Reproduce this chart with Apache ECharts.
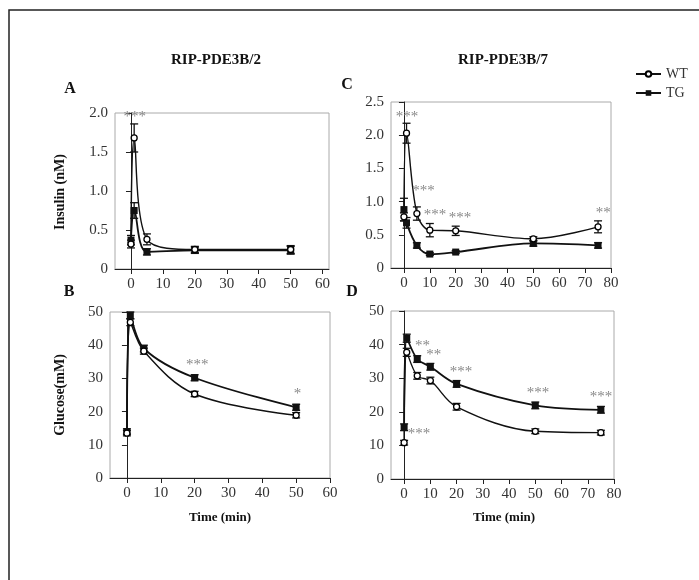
<!DOCTYPE html>
<html><head><meta charset="utf-8">
<script src="https://cdn.jsdelivr.net/npm/echarts@6/dist/echarts.min.js"></script>
<style>html,body{margin:0;padding:0;background:#fff}#c{width:699px;height:580px}</style>
</head><body><div id="c"></div>
<script>
// ---- data ----
const timeA = [0, 1, 5, 20, 50];
const insulinWT_A = [0.32, 1.68, 0.38, 0.25, 0.25];
const insulinWT_A_err = [0.05, 0.18, 0.07, 0.04, 0.05];
const insulinTG_A = [0.37, 0.75, 0.22, 0.24, 0.24];
const insulinTG_A_err = [0.06, 0.10, 0.04, 0.04, 0.05];

const timeB = [0, 1, 5, 20, 50];
const glucoseWT_B = [13.5, 46.9, 38.2, 25.3, 18.9];
const glucoseWT_B_err = [0.8, 1.0, 0.9, 0.8, 0.8];
const glucoseTG_B = [14.0, 49.0, 39.0, 30.2, 21.3];
const glucoseTG_B_err = [0.8, 1.0, 1.0, 0.9, 0.9];

const timeC = [0, 1, 5, 10, 20, 50, 75];
const insulinWT_C = [0.77, 2.03, 0.82, 0.57, 0.56, 0.44, 0.62];
const insulinWT_C_err = [0.06, 0.15, 0.10, 0.10, 0.07, 0.03, 0.09];
const insulinTG_C = [0.88, 0.68, 0.34, 0.21, 0.24, 0.37, 0.34];
const insulinTG_C_err = [0.17, 0.08, 0.04, 0.02, 0.02, 0.04, 0.04];

const timeD = [0, 1, 5, 10, 20, 50, 75];
const glucoseWT_D = [10.8, 37.7, 30.7, 29.3, 21.5, 14.2, 13.8];
const glucoseWT_D_err = [0.7, 1.2, 1.0, 1.0, 1.0, 0.7, 0.7];
const glucoseTG_D = [15.4, 41.9, 35.7, 33.4, 28.3, 21.9, 20.6];
const glucoseTG_D_err = [1.0, 1.2, 1.0, 1.0, 1.0, 1.0, 1.0];

const xTicks60 = [0, 10, 20, 30, 40, 50, 60];
const xTicks80 = [0, 10, 20, 30, 40, 50, 60, 70, 80];

// significance marks: [time, value, text]
const starsA = [[1.2, 1.95, '***']];
const starsB = [[20.8, 34, '***'], [50.4, 25.3, '*']];
const starsC = [[1.2, 2.28, '***'], [7.6, 1.16, '***'], [12, 0.80, '***'], [21.7, 0.75, '***'], [77, 0.82, '**']];
const starsD = [[7, 39.7, '**'], [11.3, 37, '**'], [21.7, 31.8, '***'], [51, 25.6, '***'], [75, 24.5, '***'], [5.7, 13.4, '***']];

// ---- chart ----
const FONT = '"Liberation Serif", "DejaVu Serif", serif';
const grids = [
  {left: 115, top: 113, width: 214, height: 156},
  {left: 110, top: 312, width: 220, height: 166},
  {left: 391, top: 102, width: 220, height: 166},
  {left: 391, top: 311, width: 223, height: 168}
].map(g => Object.assign(g, {show: true, borderColor: '#aaa', borderWidth: 1, backgroundColor: 'transparent'}));

function xAx(i, max, ticks) {
  return {
    type: 'value', gridIndex: i, min: -5, max: max,
    axisLine: {show: true, onZero: false, lineStyle: {color: '#222', width: 1}},
    axisTick: {show: true, length: 5, customValues: ticks, lineStyle: {color: '#222'}},
    axisLabel: {customValues: ticks, color: '#333', fontFamily: FONT, fontSize: 15, margin: 8},
    splitLine: {show: false}
  };
}
function yAx(i, max, interval, dec) {
  return {
    type: 'value', gridIndex: i, min: 0, max: max, interval: interval,
    axisLine: {show: true, lineStyle: {color: '#222', width: 1}},
    axisTick: {show: true, length: 5, lineStyle: {color: '#222'}},
    axisLabel: {color: '#333', fontFamily: FONT, fontSize: 15, margin: 7,
      formatter: v => v === 0 ? '0' : (dec ? v.toFixed(1) : String(v))},
    splitLine: {show: false}
  };
}

function zip(xs, ys) { return xs.map((x, i) => [x, ys[i]]); }
function zip3(xs, ys, es) { return xs.map((x, i) => [x, ys[i], es[i]]); }

function lineSeries(name, gi, xs, ys, isWT) {
  return {
    name: name, type: 'line', xAxisIndex: gi, yAxisIndex: gi,
    data: zip(xs, ys), smooth: 0.35,
    symbol: isWT ? 'circle' : 'rect', symbolSize: isWT ? 6 : 7,
    itemStyle: isWT ? {color: '#fff', borderColor: '#000', borderWidth: 1.3} : {color: '#111', borderColor: '#111', borderWidth: 0},
    lineStyle: {color: '#111', width: isWT ? 1.4 : 1.8},
    z: isWT ? 4 : 3, animation: false
  };
}
function errSeries(gi, xs, ys, es) {
  return {
    type: 'custom', xAxisIndex: gi, yAxisIndex: gi, data: zip3(xs, ys, es), z: 2, silent: true, animation: false,
    renderItem: function (params, api) {
      const x = api.value(0), y = api.value(1), e = api.value(2);
      const hi = api.coord([x, y + e]), lo = api.coord([x, y - e]);
      const w = 4;
      const st = {stroke: '#111', lineWidth: 1.3, fill: null};
      return {type: 'group', children: [
        {type: 'line', shape: {x1: hi[0], y1: hi[1], x2: lo[0], y2: lo[1]}, style: st},
        {type: 'line', shape: {x1: hi[0] - w, y1: hi[1], x2: hi[0] + w, y2: hi[1]}, style: st},
        {type: 'line', shape: {x1: lo[0] - w, y1: lo[1], x2: lo[0] + w, y2: lo[1]}, style: st}
      ]};
    }
  };
}
function starSeries(gi, stars) {
  return {
    type: 'custom', xAxisIndex: gi, yAxisIndex: gi, data: stars, z: 5, silent: true, animation: false,
    renderItem: function (params, api) {
      const p = api.coord([api.value(0), api.value(1)]);
      return {type: 'text', x: p[0], y: p[1],
        style: {text: stars[params.dataIndex][2], fill: '#888', font: '15px ' + FONT, align: 'center', verticalAlign: 'middle'}};
    }
  };
}

const series = [
  errSeries(0, timeA, insulinWT_A, insulinWT_A_err), errSeries(0, timeA, insulinTG_A, insulinTG_A_err),
  lineSeries('TG', 0, timeA, insulinTG_A, false), lineSeries('WT', 0, timeA, insulinWT_A, true), starSeries(0, starsA),
  errSeries(1, timeB, glucoseWT_B, glucoseWT_B_err), errSeries(1, timeB, glucoseTG_B, glucoseTG_B_err),
  lineSeries('TG', 1, timeB, glucoseTG_B, false), lineSeries('WT', 1, timeB, glucoseWT_B, true), starSeries(1, starsB),
  errSeries(2, timeC, insulinWT_C, insulinWT_C_err), errSeries(2, timeC, insulinTG_C, insulinTG_C_err),
  lineSeries('TG', 2, timeC, insulinTG_C, false), lineSeries('WT', 2, timeC, insulinWT_C, true), starSeries(2, starsC),
  errSeries(3, timeD, glucoseWT_D, glucoseWT_D_err), errSeries(3, timeD, glucoseTG_D, glucoseTG_D_err),
  lineSeries('TG', 3, timeD, glucoseTG_D, false), lineSeries('WT', 3, timeD, glucoseWT_D, true), starSeries(3, starsD)
];

function txt(x, y, s, size, bold, rot) {
  return {type: 'text', x: x, y: y, rotation: rot || 0,
    style: {text: s, fill: '#111', font: (bold ? 'bold ' : '') + size + 'px ' + FONT, align: 'center', verticalAlign: 'middle'}};
}

const chart = echarts.init(document.getElementById('c'), null, {renderer: 'canvas'});
chart.setOption({
  animation: false,
  backgroundColor: '#fff',
  grid: grids,
  xAxis: [xAx(0, 62, xTicks60), xAx(1, 60, xTicks60), xAx(2, 80, xTicks80), xAx(3, 80, xTicks80)],
  yAxis: [yAx(0, 2, 0.5, true), yAx(1, 50, 10, false), yAx(2, 2.5, 0.5, true), yAx(3, 50, 10, false)],
  legend: {
    data: ['WT', 'TG'], orient: 'vertical', left: 630, top: 62, itemWidth: 25, itemHeight: 7, itemGap: 5,
    textStyle: {fontFamily: FONT, fontSize: 14, color: '#333'}, selectedMode: false
  },
  series: series,
  graphic: [
    {type: 'rect', shape: {x: 9, y: 10, width: 800, height: 700}, style: {fill: null, stroke: '#222', lineWidth: 1.5}, z: -1},
    txt(216, 60, 'RIP-PDE3B/2', 15, true),
    txt(503, 60, 'RIP-PDE3B/7', 15, true),
    txt(70, 89, 'A', 16, true),
    txt(69, 292, 'B', 16, true),
    txt(347, 85, 'C', 16, true),
    txt(352, 292, 'D', 16, true),
    txt(60, 192, 'Insulin (nM)', 14, true, Math.PI / 2),
    txt(60, 395, 'Glucose(mM)', 14, true, Math.PI / 2),
    txt(220, 518, 'Time (min)', 13, true),
    txt(504, 518, 'Time (min)', 13, true)
  ]
});
</script></body></html>
